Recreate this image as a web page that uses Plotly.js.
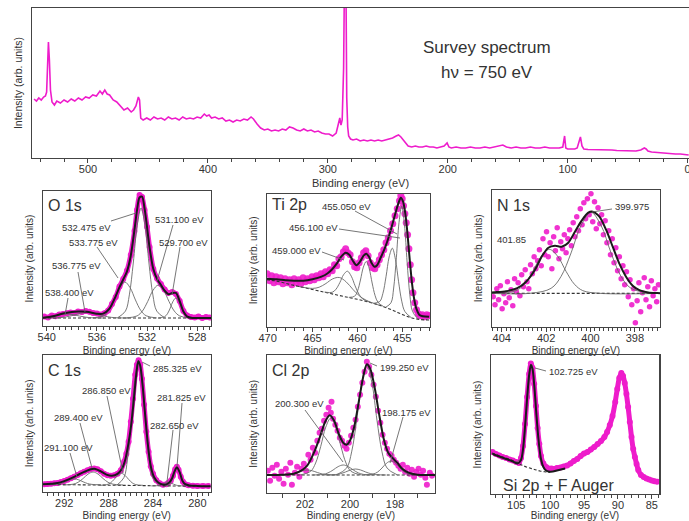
<!DOCTYPE html>
<html><head><meta charset="utf-8">
<script src="https://cdn.plot.ly/plotly-3.0.1.min.js"></script>
<style>html,body{margin:0;padding:0;background:#fff}#chart{width:689px;height:521px}</style>
</head><body><div id="chart"></div>
<script>
// ---------------- Survey spectrum ----------------
const surveyBE = [545,543,541,539,537,535.5,534.5,533.8,533,532.2,
 531.3,530,528,526,523,520,517,514,511,508,
 505,502,499,496,493,490,488,486,484,482,
 479,476,473,470,467,464,462,460,458,457,
 456,454,451,448,445,442,439,436,433,430,
 427,424,421,418,415,412,409,406,403,401,
 399,397,394,391,388,385,382,379,376,373,
 370,367,364,362,359,356,353,350,347,344,
 341,338,335,332,329,326,323,320,317,314,
 311,308,305,302,299,296,293,291,290,289,
 288,286.8,285.8,285,284.2,283.4,282.6,281,279,276,
 273,270,267,264,261,258,255,252,249,246,
 243,241,239,236,233,230,227,224,221,218,
 215,212,209,206,203,200.5,199,197,193,189,
 185,181,177,173,169,165,161,157,154,151,
 147,143,139,135,131,127,123,119,115,111,
 107,104,102.5,101.5,100,97,94,92,90.5,89.3,
 88,86.5,83,79,75,71,67,63,59,55,
 51,47,43,39,36,34.5,33,30,26,22,
 18,14,10,6,2,-1];
const surveyI = [59,57,60,58,61,62,66,95,116,98,
 68,56,53,57,55,58,56,59,57,60,
 58,61,60,63,62,67,64,68,64,63,
 58,56,52,48,50,46,48,52,61,58,
 40,38,40,38,41,39,40,38,41,39,
 40,38,41,39,40,39,41,40,44,42,
 43,40,41,39,40,37,38,36,38,37,
 39,38,41,39,34,30,28,29,27,28,
 27,29,28,31,30,28,27,29,27,28,
 26,27,25,24,24,22,25,35,40,33,
 38,90,220,200,60,31,22,19,18,19,
 17,18,17,18,17,18,17,18,19,20,
 22,23,21,17,12,11,12,11,11,12,
 11,11,10,11,12,15,11,10,11,10,
 10,11,10,10,11,10,11,12,13,11,
 10,11,10,10,11,10,10,11,10,10,
 10,11,22,10,9,9,9,10,15,21,
 12,9,8.5,8.5,8,8.5,8,8,7.5,7.5,
 7,7.5,7,8,10,9,7,6,5.5,5,
 5,4.5,4,4,3.5,3];

// ---------------- O 1s ----------------
const o1sBE = [540.2,539.9,539.6,539.3,539.0,538.7,538.4,538.1,537.8,537.5,537.2,536.9,536.6,536.3,536.0,535.7,535.4,535.1,534.8,534.5,534.2,533.9,533.6,533.3,533.0,532.8,532.6,532.4,532.2,532.0,531.8,531.5,531.2,530.9,530.6,530.3,530.0,529.7,529.4,529.1,528.8,528.5,528.2,527.9,527.6,527.3,527.0];
const o1sI = [9.5,8.5,10.5,9.8,11.5,12.0,12.8,13.5,13.0,14.5,14.0,15.0,14.2,13.0,12.5,11.5,12.8,15.5,22.0,29.0,39.5,47.0,55.5,71.0,95.0,116.0,131.0,129.0,116.0,99.0,79.0,57.0,47.5,42.0,36.5,33.0,34.0,32.0,25.0,15.0,10.5,9.0,8.5,9.5,8.0,9.0,8.5];
const o1sFitBE = [540.3,539.5,538.5,537.5,536.8,536,535.5,535,534.5,534.2,533.9,533.6,533.3,533,532.8,532.6,532.4,532.2,532,531.8,531.5,531.2,530.9,530.6,530.3,530,529.7,529.4,529.1,528.8,528.4,528,527.5,526.9];
const o1sFit = [8.3,9.8,13.0,14.4,14.2,12.3,12.4,17.4,29.9,38.8,46.5,54.7,70.3,96.6,115.9,128.5,129.4,117.6,98.7,78.6,56.9,46.9,41.2,35.4,31.7,33.0,33.1,24.9,14.5,9.4,8.1,8.0,8.0,8.0];
const o1sBgBE = [540.3,526.9];
const o1sBg = [8,8];
const o1sC5384BE = [535.4,536.4,536.9,537.4,537.9,538.4,538.9,539.4,539.9,540.4,541.4];
const o1sC5384 = [8,8.25,8.84,10,11.36,12,11.36,10,8.84,8.25,8];
const o1sC5368BE = [533.475,534.575,535.125,535.675,536.225,536.775,537.325,537.875,538.425,538.975,540.075];
const o1sC5368 = [8.01,8.34,9.16,10.75,12.62,13.5,12.62,10.75,9.16,8.34,8.01];
const o1sC5338BE = [531.225,532.075,532.5,532.925,533.35,533.775,534.2,534.625,535.05,535.475,536.325];
const o1sC5338 = [8.07,10.25,15.56,26,38.24,44,38.24,26,15.56,10.25,8.07];
const o1sC5325BE = [530.6,531.225,531.5375,531.85,532.1625,532.475,532.7875,533.1,533.4125,533.725,534.35];
const o1sC5325 = [8.2,14.9,31.1,63,100.4,118,100.4,63,31.1,14.9,8.2];
const o1sC5311BE = [528.55,529.4,529.825,530.25,530.675,531.1,531.525,531.95,532.375,532.8,533.65];
const o1sC5311 = [8.07,10.06,14.9,24.5,35.7,41,35.7,24.5,14.9,10.06,8.07];
const o1sC5297BE = [528.35,528.8,529.025,529.25,529.475,529.7,529.925,530.15,530.375,530.6,531.05];
const o1sC5297 = [8.04,9.25,12.2,18,24.8,28,24.8,18,12.2,9.25,8.04];

// ---------------- Ti 2p ----------------
const tiBE = [470.05,469.8,469.55,469.3,469.05,468.8,468.55,468.3,468.05,467.8,467.55,467.3,467.05,466.8,466.55,466.3,466.05,465.8,465.55,465.3,465.05,464.8,464.55,464.3,464.05,463.8,463.55,463.3,463.05,462.8,462.55,462.3,462.05,461.8,461.55,461.3,461.05,460.8,460.55,460.3,460.05,459.8,459.55,459.3,459.05,458.8,458.55,458.3,458.05,457.8,457.55,457.3,457.05,456.8,456.55,456.3,456.05,455.8,455.55,455.3,455.15,455.0,454.85,454.7,454.55,454.4,454.25,454.1,453.95,453.8,453.6,453.4,453.2,453.0,452.75,452.5,452.25,452.05];
const tiI = [53,46,51,44,50,45,49,43,48,44,47,42,48,44,47,43,49,45,48,46,50,47,51,49,53,50,55,53,57,56,62,61,68,70,75,78,74,72,65,60,59,64,69,74,76,71,64,59,58,62,67,72,77,84,89,96,103,111,118,126,131,128,121,113,104,92,78,62,47,34,24,17,13,11,12,10,12,11];
const tiFitBE = [470.1,469,468,467,466,465,464,463.3,462.8,462.3,461.8,461.3,460.9,460.5,460.1,459.7,459.3,459.0,458.7,458.4,458.1,457.8,457.4,457.0,456.6,456.2,455.8,455.4,455.15,454.9,454.65,454.4,454.15,453.9,453.65,453.4,453.1,452.7,452.0];
const tiFit = [48,47.5,46.5,46,46,47.5,50,53.5,57.5,63,70,74,72,66,61.5,65,71,73,70,63.5,60,61.5,69,77,87,99,112,124,129,125,113,92,66,43,27,17.5,12,10.5,10];
const tiBgBE = [470.1,469,468,467,466,465,464,463,462,461,460,459,458,457,456,455,454,453,451.9];
const tiBg = [47,45.6,43.4,41.2,39.2,37.2,35.2,33.2,31.2,29.3,27.4,25.3,22.8,19.7,16.2,12.3,9,7.2,6.7];
const tiC4550BE = [453.25,453.85,454.15,454.45,454.75,455.05,455.35,455.65,455.95,456.25,456.85];
const tiC4550 = [7.8,15.4,32.2,64.5,102.2,120.5,104.4,68.9,38.7,23.9,19.4];
const tiC4561BE = [454.0,454.7,455.05,455.4,455.75,456.1,456.45,456.8,457.15,457.5,458.2];
const tiC4561 = [9.1,15.2,25.5,44.9,67.2,78.5,69.8,50,33.2,25.2,23.4];
const tiC4590BE = [457.05,457.7,458.025,458.35,458.675,459.0,459.325,459.65,459.975,460.3,460.95];
const tiC4590 = [20,24.4,31.3,43.7,58.1,65.3,59.6,46.7,35.8,30.5,29.3];
const tiC4611BE = [458.55,459.4,459.825,460.25,460.675,461.1,461.525,461.95,462.375,462.8,463.65];
const tiC4611 = [24.3,27.7,32.6,40.9,50.5,55.5,52.1,44.1,37.5,34.4,34.6];
const tiC4620BE = [457.5,459,459.75,460.5,461.25,462,462.75,463.5,464.25,465,466.5];
const tiC4620 = [21.3,26.4,30.7,37.4,44.9,49.2,47.8,43.2,39.5,38.3,40.2];

// ---------------- N 1s ----------------
const n1sBE = [404.38,404.30,404.22,404.14,404.06,403.98,403.90,403.82,403.74,403.66,403.58,403.50,403.42,403.34,403.26,403.18,403.10,403.02,402.94,402.86,402.78,402.70,402.62,402.54,402.46,402.38,402.30,402.22,402.14,402.06,401.98,401.90,401.82,401.74,401.66,401.58,401.50,401.42,401.34,401.26,401.18,401.10,401.02,400.94,400.86,400.78,400.70,400.62,400.54,400.46,400.38,400.30,400.22,400.14,400.06,399.98,399.90,399.82,399.74,399.66,399.58,399.50,399.42,399.34,399.26,399.18,399.10,399.02,398.94,398.86,398.78,398.70,398.62,398.54,398.46,398.38,398.30,398.22,398.14,398.06,397.98,397.90,397.82,397.74,397.66,397.58,397.50,397.42,397.34,397.26,397.18,397.10,397.02,396.94];
const n1sI = [30,22,38,27,41,18,33,24,45,29,37,21,48,35,44,31,52,40,57,45,38,62,53,70,58,66,77,61,88,72,95,70,84,58,90,76,99,68,85,78,92,74,88,97,81,104,90,110,96,118,102,124,108,128,112,133,105,125,98,119,103,112,92,106,84,96,72,88,64,79,56,70,48,61,42,55,30,47,22,38,4,26,44,15,34,49,27,40,20,46,31,38,25,42];
const n1sFitBE = [404.45,404.3,403.8,403.3,402.9,402.5,402.2,401.9,401.6,401.3,401.0,400.7,400.4,400.1,399.9,399.6,399.3,399.0,398.7,398.4,398.1,397.8,397.4,397.0,396.87];
const n1sFit = [34.3,34.5,35.5,38.5,45,57,70,79,81,80,84,95,106,114,115,110,97,80,63,50,41,36.5,34.2,33.6,33.5];
const n1sBgBE = [404.45,396.87];
const n1sBg = [33.3,33.3];
const n1sC4018BE = [404.45,404.1,403.35,402.975,402.6,402.225,401.85,401.475,401.1,400.725,400.35,399.6,396.87];
const n1sC4018 = [33.3,33.4,36.1,42.5,55.3,70.3,77.3,70.3,55.3,42.5,36.1,33.4,33.3];
const n1sC3999BE = [404.45,402.675,401.775,401.325,400.875,400.425,399.975,399.525,399.075,398.625,398.175,397.275,396.87];
const n1sC3999 = [33.3,33.5,38.4,50.3,73.8,101.3,114.3,101.3,73.8,50.3,38.4,33.5,33.3];

// ---------------- C 1s ----------------
const c1sBE = [293.8,293.5,293.2,292.9,292.6,292.3,292.0,291.7,291.4,291.1,290.8,290.5,290.2,289.9,289.6,289.3,289.0,288.7,288.4,288.1,287.8,287.5,287.2,286.9,286.6,286.4,286.2,286.0,285.8,285.6,285.45,285.3,285.15,285.0,284.8,284.6,284.4,284.2,284.0,283.7,283.4,283.1,282.8,282.6,282.4,282.2,282.0,281.85,281.7,281.5,281.3,281.1,280.8,280.4,280.0,279.5,279.0];
const c1sI = [7.5,7.8,8.0,8.4,8.8,9.6,10.8,12.0,13.5,15.0,16.8,18.5,20.0,21.5,22.8,23.3,22.5,20.5,18.0,16.5,16.0,16.5,18.0,21.5,30,38,50,70,93,117,127,131.5,127,113,87,60,40,25.5,18,11.5,8.5,7.0,7.5,9.0,11.0,16.0,22.5,25.0,22.0,15.0,10.0,7.5,6.5,6.0,5.8,5.7,5.7];
const c1sFitBE = [293.9,293.2,292.6,292.0,291.4,290.8,290.2,289.6,289.2,288.7,288.2,287.7,287.2,286.8,286.5,286.2,285.95,285.7,285.5,285.325,285.15,284.95,284.7,284.45,284.2,283.9,283.5,283.0,282.6,282.3,282.05,281.85,281.6,281.35,281.1,280.7,280.0,278.8];
const c1sFit = [7.4,7.9,8.6,10.6,13.3,16.6,19.8,22.5,22.8,20.3,17.1,15.9,17.8,23,32,49,68,95,118,130.5,126,108,76,46,25.5,14.5,9,7,8.5,13,20.5,24.5,19.5,11,7.5,6.2,5.8,5.5];
const c1sBgBE = [293.94,278.8];
const c1sBg = [7.3,5.3];
const c1sC2911BE = [288.7,289.5,289.9,290.3,290.7,291.1,291.5,291.9,292.3,292.7,293.5];
const c1sC2911 = [6.91,7.3,8.2,9.9,11.9,12.9,11.9,9.9,8.2,7.3,6.91];
const c1sC2894BE = [286.7,287.6,288.05,288.5,288.95,289.4,289.85,290.3,290.75,291.2,292.1];
const c1sC2894 = [6.73,7.5,9.4,13.2,17.6,19.7,17.6,13.2,9.4,7.5,6.73];
const c1sC2868BE = [284.9,285.55,285.875,286.2,286.525,286.85,287.175,287.5,287.825,288.15,288.8];
const c1sC2868 = [6.37,7.1,8.85,12.35,16.35,18.35,16.35,12.35,8.85,7.1,6.37];
const c1sC2853BE = [283.375,284.025,284.35,284.675,285.0,285.325,285.65,285.975,286.3,286.625,287.275];
const c1sC2853 = [6.45,14,32.5,68.7,111.2,131.2,111.2,68.7,32.5,14,6.45];
const c1sC2826BE = [281.15,281.65,281.9,282.15,282.4,282.65,282.9,283.15,283.4,283.65,284.15];
const c1sC2826 = [5.8,6.0,6.5,7.55,8.7,9.3,8.7,7.55,6.5,6.0,5.8];
const c1sC2818BE = [280.7,281.075,281.2625,281.45,281.6375,281.825,282.0125,282.2,282.3875,282.575,282.95];
const c1sC2818 = [5.74,6.8,9.5,14.7,20.8,23.7,20.8,14.7,9.5,6.8,5.74];

// ---------------- Cl 2p ----------------
const cl2pBE = [203.65,203.55,203.45,203.35,203.25,203.15,203.05,202.95,202.85,202.75,202.65,202.58,202.45,202.35,202.25,202.15,202.05,201.95,201.85,201.75,201.65,201.55,201.45,201.35,201.25,201.15,201.05,200.95,200.85,200.82,200.75,200.65,200.55,200.45,200.35,200.25,200.15,200.05,199.95,199.85,199.75,199.65,199.55,199.45,199.35,199.25,199.15,199.05,198.95,198.85,198.75,198.65,198.55,198.45,198.35,198.25,198.15,198.05,197.95,197.85,197.75,197.65,197.55,197.45,197.35,197.25,197.15,197.05,196.95,196.85,196.75,196.65,196.58,196.45,196.35];
const cl2pI = [22,12,25,17,28,14,21,9,24,18,30,8,20,26,16,24,29,22,38,33,45,40,52,60,64,72,78,85,80,91,74,68,62,55,52,47,44,50,57,65,73,86,98,110,121,131,126,118,108,96,82,70,58,50,44,39,37,33,30,27,24,28,21,25,19,23,16,21,24,18,22,15,8,20,17];
const cl2pFitBE = [203.7,203.0,202.5,202.2,201.9,201.6,201.3,201.1,200.9,200.7,200.5,200.3,200.15,200.0,199.8,199.6,199.4,199.25,199.1,198.9,198.7,198.5,198.3,198.1,197.9,197.7,197.4,197.0,196.5,196.22];
const cl2pFit = [17.8,18.0,19.0,21.5,27,40,58,71,77.5,72,59,50,48,52,67,92,117,128.5,124,105,78,54,40,34.5,30,24.5,20,18,17.7,17.7];
const cl2pBgBE = [203.7,196.22];
const cl2pBg = [17.7,17.7];
const cl2pC1993BE = [197.9,198.35,198.575,198.8,199.025,199.25,199.475,199.7,199.925,200.15,200.6];
const cl2pC1993 = [17.9,24.6,40.8,72.7,110.1,127.7,110.1,72.7,40.8,24.6,17.9];
const cl2pC2009BE = [199.5,199.95,200.175,200.4,200.625,200.85,201.075,201.3,201.525,201.75,202.2];
const cl2pC2009 = [17.8,21.3,29.7,46.2,65.6,74.7,65.6,46.2,29.7,21.3,17.8];
const cl2pC2003BE = [198.95,199.4,199.625,199.85,200.075,200.3,200.525,200.75,200.975,201.2,201.65];
const cl2pC2003 = [17.7,18.3,19.8,22.7,26.1,27.7,26.1,22.7,19.8,18.3,17.7];
const cl2pC1998BE = [198.4,198.85,199.075,199.3,199.525,199.75,199.975,200.2,200.425,200.65,201.1];
const cl2pC1998 = [17.7,18.1,19.0,20.7,22.7,23.7,22.7,20.7,19.0,18.1,17.7];
const cl2pC1982BE = [196.975,197.375,197.575,197.775,197.975,198.175,198.375,198.575,198.775,198.975,199.375];
const cl2pC1982 = [17.7,18.6,20.6,24.7,29.5,31.7,29.5,24.7,20.6,18.6,17.7];
const cl2pC2019BE = [200.55,201.0,201.225,201.45,201.675,201.9,202.125,202.35,202.575,202.8,203.25];
const cl2pC2019 = [17.7,18.0,18.7,20.2,21.9,22.7,21.9,20.2,18.7,18.0,17.7];

// ---------------- Si 2p + F Auger ----------------
const siBE = [108.5,108.0,107.5,107.0,106.5,106.0,105.5,105.0,104.6,104.3,104.0,103.7,103.4,103.1,102.85,102.6,102.35,102.1,101.85,101.6,101.35,101.0,100.6,100.2,99.8,99.4,99.0,98.5,98.0,97.5,97.0,96.5,96.0,95.5,95.0,94.5,94.0,93.5,93.0,92.5,92.0,91.6,91.2,90.8,90.4,90.1,89.8,89.5,89.25,89.0,88.75,88.5,88.25,88.0,87.75,87.5,87.25,87.0,86.6,86.2,85.8,85.4,85.0,84.6,84.2];
const siI = [42,40,38.5,37,36,34.5,33.5,32,31,36,48,70,97,120,130.5,126,110,88,66,50,38,30.5,27,25.5,25.5,25,26,26.5,27.5,28.5,30.5,33,35,38,40.5,42,44.5,47,50,53,57,62,69,78,92,105,116,121,118,111,100,87,72,57,45,37,30,24,19,17,15.5,14.5,13.5,12.8,12.3];
const siFitBE = [108.5,107.5,106.5,105.5,104.8,104.3,104.0,103.7,103.4,103.1,102.85,102.6,102.35,102.1,101.85,101.6,101.35,101.0,100.6,100.2,99.6,99.0,98.4,97.8];
const siFit = [40,37.5,35,32.5,30.5,34,45,68,96,119,129,125,109,86,64,47,35,27,23.5,22.5,22.5,23.5,24.5,25.5];
const siBgBE = [108.6,107,105.5,104.5,103.5,102.5,101.5,100.5,100.0];
const siBg = [41,37,33.5,30,27,25,23,22,21.5];
const siC1027BE = [100.4,101.175,101.5625,101.95,102.3375,102.725,103.1125,103.5,103.8875,104.275,105.05];
const siC1027 = [22.1,29.1,44.9,75.9,112.1,129.5,113.6,79,50,35.7,31.8];

// ---------------- layout helpers ----------------
const W = 689, H = 521;
const MAG = '#ee1ccb';
const FONT = 'Liberation Sans, Arial, sans-serif';
const TXT = '#333333';

function xAx(l, r, range, dtick, minor, anchor, tsize, lsize) {
  return {domain:[l/W, r/W], range:range, anchor:anchor, showline:true, mirror:true,
    linecolor:'#444', linewidth:1.2, ticks:'outside', ticklen:4, tickwidth:1, tickcolor:'#444',
    tick0:0, dtick:dtick, ticklabelstandoff:-3, ticklabeloverflow:'allow',
    minor:{tick0:0, dtick:minor, ticks:'outside', ticklen:3, tickwidth:1, tickcolor:'#444', showgrid:false},
    showgrid:false, zeroline:false, tickfont:{family:FONT, size:lsize, color:TXT},
    title:{text:'Binding energy (eV)', font:{family:FONT, size:tsize, color:TXT}, standoff:4},
    automargin:false, fixedrange:true};
}
function yAx(t, b, range, anchor, tsize, standoff) {
  return {domain:[1-b/H, 1-t/H], range:range, anchor:anchor, showline:true, mirror:true,
    linecolor:'#444', linewidth:1.2, ticks:'', showticklabels:false, showgrid:false, zeroline:false,
    title:{text:'Intensity (arb. units)', font:{family:FONT, size:tsize, color:TXT}, standoff:standoff},
    automargin:false, fixedrange:true};
}

const traces = [];
function dataLine(x, y, xa, ya, w) {
  traces.push({x:x, y:y, xaxis:xa, yaxis:ya, type:'scatter', mode:'lines+markers',
    line:{color:MAG, width:w, shape:'spline', smoothing:0.6}, marker:{color:MAG, size:w+1}, hoverinfo:'skip', showlegend:false});
}
function dataDots(x, y, xa, ya, s) {
  traces.push({x:x, y:y, xaxis:xa, yaxis:ya, type:'scatter', mode:'markers',
    marker:{color:MAG, size:s, opacity:0.9}, hoverinfo:'skip', showlegend:false});
}
function comp(x, y, xa, ya) {
  traces.push({x:x, y:y, xaxis:xa, yaxis:ya, type:'scatter', mode:'lines',
    line:{color:'#6a6a6a', width:0.9, shape:'spline', smoothing:1}, hoverinfo:'skip', showlegend:false});
}
function bg(x, y, xa, ya) {
  traces.push({x:x, y:y, xaxis:xa, yaxis:ya, type:'scatter', mode:'lines',
    line:{color:'#333', width:1.1, dash:'3px,2px', shape:'spline'}, hoverinfo:'skip', showlegend:false});
}
function fit(x, y, xa, ya) {
  traces.push({x:x, y:y, xaxis:xa, yaxis:ya, type:'scatter', mode:'lines',
    line:{color:'#1a1a1a', width:2, shape:'spline', smoothing:0.8}, hoverinfo:'skip', showlegend:false});
}

// survey
traces.push({x:surveyBE, y:surveyI, xaxis:'x', yaxis:'y', type:'scatter', mode:'lines',
  line:{color:MAG, width:1.6}, hoverinfo:'skip', showlegend:false});

// O 1s
dataLine(o1sBE, o1sI, 'x2', 'y2', 5);
bg(o1sBgBE, o1sBg, 'x2', 'y2');
[[o1sC5384BE,o1sC5384],[o1sC5368BE,o1sC5368],[o1sC5338BE,o1sC5338],[o1sC5325BE,o1sC5325],[o1sC5311BE,o1sC5311],[o1sC5297BE,o1sC5297]]
  .forEach(c => comp(c[0], c[1], 'x2', 'y2'));
fit(o1sFitBE, o1sFit, 'x2', 'y2');

// Ti 2p
dataDots(tiBE, tiI, 'x3', 'y3', 7);
bg(tiBgBE, tiBg, 'x3', 'y3');
[[tiC4550BE,tiC4550],[tiC4561BE,tiC4561],[tiC4590BE,tiC4590],[tiC4611BE,tiC4611],[tiC4620BE,tiC4620]]
  .forEach(c => comp(c[0], c[1], 'x3', 'y3'));
fit(tiFitBE, tiFit, 'x3', 'y3');

// N 1s
dataDots(n1sBE, n1sI, 'x4', 'y4', 5.5);
bg(n1sBgBE, n1sBg, 'x4', 'y4');
comp(n1sC4018BE, n1sC4018, 'x4', 'y4');
comp(n1sC3999BE, n1sC3999, 'x4', 'y4');
fit(n1sFitBE, n1sFit, 'x4', 'y4');

// C 1s
dataLine(c1sBE, c1sI, 'x5', 'y5', 5);
bg(c1sBgBE, c1sBg, 'x5', 'y5');
[[c1sC2911BE,c1sC2911],[c1sC2894BE,c1sC2894],[c1sC2868BE,c1sC2868],[c1sC2853BE,c1sC2853],[c1sC2826BE,c1sC2826],[c1sC2818BE,c1sC2818]]
  .forEach(c => comp(c[0], c[1], 'x5', 'y5'));
fit(c1sFitBE, c1sFit, 'x5', 'y5');

// Cl 2p
dataDots(cl2pBE, cl2pI, 'x6', 'y6', 6);
bg(cl2pBgBE, cl2pBg, 'x6', 'y6');
[[cl2pC1993BE,cl2pC1993],[cl2pC2009BE,cl2pC2009],[cl2pC2003BE,cl2pC2003],[cl2pC1998BE,cl2pC1998],[cl2pC1982BE,cl2pC1982],[cl2pC2019BE,cl2pC2019]]
  .forEach(c => comp(c[0], c[1], 'x6', 'y6'));
fit(cl2pFitBE, cl2pFit, 'x6', 'y6');

// Si 2p + F Auger
dataLine(siBE, siI, 'x7', 'y7', 5);
bg(siBgBE, siBg, 'x7', 'y7');
comp(siC1027BE, siC1027, 'x7', 'y7');
fit(siFitBE, siFit, 'x7', 'y7');

// ---------------- annotations & leader lines (pixel positions) ----------------
const P = (x) => x / W, Q = (y) => 1 - y / H;
const ann = [];
function lab(text, x, y, size, anchor) {
  ann.push({text:text, xref:'paper', yref:'paper', x:P(x), y:Q(y), xanchor:anchor || 'left', yanchor:'middle',
    showarrow:false, font:{family:FONT, size:size, color:TXT}});
}
const shapes = [];
function lead(x0, y0, x1, y1) {
  shapes.push({type:'line', xref:'paper', yref:'paper', x0:P(x0), y0:Q(y0), x1:P(x1), y1:Q(y1),
    line:{color:'#666', width:0.9}});
}
lab('Survey spectrum', 487, 47, 17, 'center');
lab('h\u03bd = 750 eV', 487, 72, 17, 'center');

lab('O 1s', 46, 205, 16);
lab('532.475 eV', 60, 227, 9.5); lead(111, 221, 136, 213);
lab('533.775 eV', 67, 242, 9.5); lead(97, 247, 118, 278);
lab('536.775 eV', 50, 265, 9.5); lead(78, 272, 85, 312);
lab('538.400 eV', 43, 292, 9.5); lead(68, 298, 65, 315);
lab('531.100 eV', 153, 220, 9.5); lead(173, 225, 157, 281);
lab('529.700 eV', 157, 242, 9.5); lead(180, 247, 172, 295);

lab('Ti 2p', 270, 204, 16);
lab('455.050 eV', 320, 206, 9.5); lead(355, 211, 397, 234);
lab('456.100 eV', 287, 227, 9.5); lead(339, 229, 400, 238);
lab('459.000 eV', 270, 250, 9.5); lead(322, 252, 344, 260);

lab('N 1s', 495, 205, 16);
lab('399.975', 613, 207, 9.5); lead(612, 209, 592, 212);
lab('401.85', 495, 239, 9.5);

lab('C 1s', 46, 370, 16);
lab('285.325 eV', 151, 368, 9.5); lead(150, 366, 142, 362);
lab('286.850 eV', 80, 390, 9.5); lead(107, 396, 123, 473);
lab('281.825 eV', 155, 397, 9.5); lead(182, 403, 177, 467);
lab('282.650 eV', 148, 425, 9.5); lead(173, 430, 167, 482);
lab('289.400 eV', 52, 417, 9.5); lead(80, 423, 92, 468);
lab('291.100 eV', 42, 447, 9.5); lead(70, 453, 77, 477);

lab('Cl 2p', 270, 370, 16);
lab('199.250 eV', 378, 367, 9.5); lead(377, 366, 370, 363);
lab('200.300 eV', 273, 403, 9.5); lead(305, 410, 343, 462);
lab('198.175 eV', 380, 412, 9.5); lead(403, 417, 390, 463);

lab('102.725 eV', 547, 371, 9.5); lead(546, 371, 535, 368);
lab('Si 2p + F Auger', 558, 485, 16, 'center');

const layout = {
  width: W, height: H, margin:{l:0, r:0, t:0, b:0}, paper_bgcolor:'#fff', plot_bgcolor:'#fff',
  font:{family:FONT, color:TXT}, showlegend:false,
  xaxis:  xAx(32, 689, [546.7, -1.25], 100, 20, 'y', 11, 11),
  yaxis:  yAx(8, 158, [0, 150], 'x', 10.5, 6),
  xaxis2: xAx(43, 211, [540.3, 526.9], 4, 0.5, 'y2', 10, 11),
  yaxis2: yAx(191, 326, [0, 135], 'x2', 10, 6),
  xaxis3: xAx(266.7, 430, [470.1, 451.9], 5, 1, 'y3', 10, 11),
  yaxis3: yAx(194, 326.7, [0, 132.7], 'x3', 10, 6),
  xaxis4: xAx(491.7, 660, [404.45, 396.87], 2, 0.2, 'y4', 10, 11),
  yaxis4: yAx(190, 326.7, [0, 136.7], 'x4', 10, 6),
  xaxis5: xAx(42.7, 210.7, [293.94, 278.8], 4, 0.5, 'y5', 10, 11),
  yaxis5: yAx(355, 491.7, [0, 136.7], 'x5', 10, 6),
  xaxis6: xAx(266.7, 435, [203.7, 196.22], 2, 1, 'y6', 10, 11),
  yaxis6: yAx(355, 492.7, [0, 137.7], 'x6', 10, 6),
  xaxis7: xAx(490.7, 659.3, [108.77, 83.9], 5, 1, 'y7', 10, 11),
  yaxis7: yAx(355, 494, [0, 139], 'x7', 10, 6),
  annotations: ann, shapes: shapes
};
layout.xaxis6.minor.ticklen = 4;

Plotly.newPlot('chart', traces, layout, {staticPlot:true, displayModeBar:false});
</script></body></html>
